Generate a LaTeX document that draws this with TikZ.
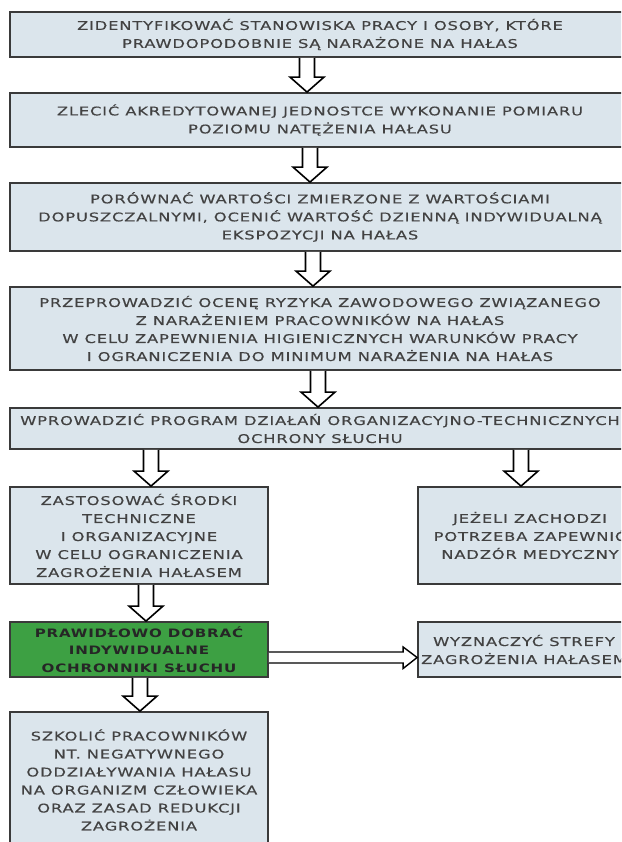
\documentclass[tikz,border=0pt]{standalone}
\usepackage{fontspec}
\newfontfamily\boxfont{DejaVu Sans}[FakeStretch=1.36,LetterSpace=7,FakeBold=0.35]
\newfontfamily\boldboxfont{DejaVu Sans Bold}[FakeStretch=1.3,LetterSpace=7]
\usetikzlibrary{calc}
\definecolor{boxfill}{HTML}{DBE5EC}
\definecolor{boxline}{HTML}{3A3A3A}
\definecolor{txt}{HTML}{424242}
\definecolor{grn}{HTML}{3DA043}
\tikzset{
  box/.style={draw=boxline, line width=1.8pt, fill=boxfill, rectangle, inner sep=0pt,
    align=center, text=txt, font=\boxfont\fontsize{12}{18}\selectfont},
  greenbox/.style={box, fill=grn, text=black!85, font=\boldboxfont\fontsize{11.6}{17.5}\selectfont},
  blkarr/.style={draw=black, line width=1.6pt, fill=white, line join=miter}
}
\newcommand\blkdown[3]{%
  \draw[blkarr] let \p1=(#3,0 |- #1.south), \p2=(#3,0 |- #2.north) in
    (\x1-7.5pt,\y1) -- (\x1-7.5pt,\y2+15pt) -- (\x1-17pt,\y2+15pt) -- (\x1,\y2)
    -- (\x1+17pt,\y2+15pt) -- (\x1+7.5pt,\y2+15pt) -- (\x1+7.5pt,\y1);}
\begin{document}
\begin{tikzpicture}[x=1pt,y=-1pt]
\useasboundingbox (0,0) rectangle (621,842);
\fill[white] (0,0) rectangle (621,842);
\clip (0,0) rectangle (621,842);
\node[box, minimum width=620pt, minimum height=45pt] (b1) at (320,34.5)
  {ZIDENTYFIKOWAĆ STANOWISKA PRACY I OSOBY, KTÓRE\\PRAWDOPODOBNIE SĄ NARAŻONE NA HAŁAS};
\node[box, minimum width=620pt, minimum height=54pt] (b2) at (320,120)
  {ZLECIĆ AKREDYTOWANEJ JEDNOSTCE WYKONANIE POMIARU\\POZIOMU NATĘŻENIA HAŁASU};
\node[box, minimum width=620pt, minimum height=68pt] (b3) at (320,217)
  {PORÓWNAĆ WARTOŚCI ZMIERZONE Z WARTOŚCIAMI\\DOPUSZCZALNYMI, OCENIĆ WARTOŚĆ DZIENNĄ INDYWIDUALNĄ\\EKSPOZYCJI NA HAŁAS};
\node[box, minimum width=620pt, minimum height=83pt] (b4) at (320,328.5)
  {PRZEPROWADZIĆ OCENĘ RYZYKA ZAWODOWEGO ZWIĄZANEGO\\Z NARAŻENIEM PRACOWNIKÓW NA HAŁAS\\W CELU ZAPEWNIENIA HIGIENICZNYCH WARUNKÓW PRACY\\I OGRANICZENIA DO MINIMUM NARAŻENIA NA HAŁAS};
\node[box, minimum width=620pt, minimum height=41pt] (b5) at (320,428.5)
  {WPROWADZIĆ PROGRAM DZIAŁAŃ ORGANIZACYJNO-TECHNICZNYCH\\OCHRONY SŁUCHU};
\node[box, minimum width=258pt, minimum height=97pt] (b6) at (139,535.5)
  {ZASTOSOWAĆ ŚRODKI\\TECHNICZNE\\I ORGANIZACYJNE\\W CELU OGRANICZENIA\\ZAGROŻENIA HAŁASEM};
\node[box, minimum width=224pt, minimum height=97pt] (b7) at (530,535.5)
  {JEŻELI ZACHODZI\\POTRZEBA ZAPEWNIĆ\\NADZÓR MEDYCZNY};
\node[greenbox, minimum width=258pt, minimum height=55pt] (b8) at (139,649.5)
  {PRAWIDŁOWO DOBRAĆ\\INDYWIDUALNE\\OCHRONNIKI SŁUCHU};
\node[box, minimum width=212pt, minimum height=55pt] (b9) at (524,649.5)
  {WYZNACZYĆ STREFY\\ZAGROŻENIA HAŁASEM};
\node[box, minimum width=258pt, minimum height=136pt] (b10) at (139,780)
  {SZKOLIĆ PRACOWNIKÓW\\NT. NEGATYWNEGO\\ODDZIAŁYWANIA HAŁASU\\NA ORGANIZM CZŁOWIEKA\\ORAZ ZASAD REDUKCJI\\ZAGROŻENIA};
\blkdown{b1}{b2}{307}
\blkdown{b2}{b3}{310}
\blkdown{b3}{b4}{313}
\blkdown{b4}{b5}{318}
\blkdown{b5}{b6}{151}
\blkdown{b5}{b7}{521}
\blkdown{b6}{b8}{146}
\blkdown{b8}{b10}{140}
\draw[blkarr, line width=1.4pt] let \p1=(b8.east), \p2=(b9.west) in
  (\x1,\y1-2.5pt) -- (\x2-14pt,\y1-2.5pt) -- (\x2-14pt,\y1+2.5pt) -- (\x2,\y1-8pt)
  -- (\x2-14pt,\y1-19pt) -- (\x2-14pt,\y1-13.5pt) -- (\x1,\y1-13.5pt);
\end{tikzpicture}
\end{document}
